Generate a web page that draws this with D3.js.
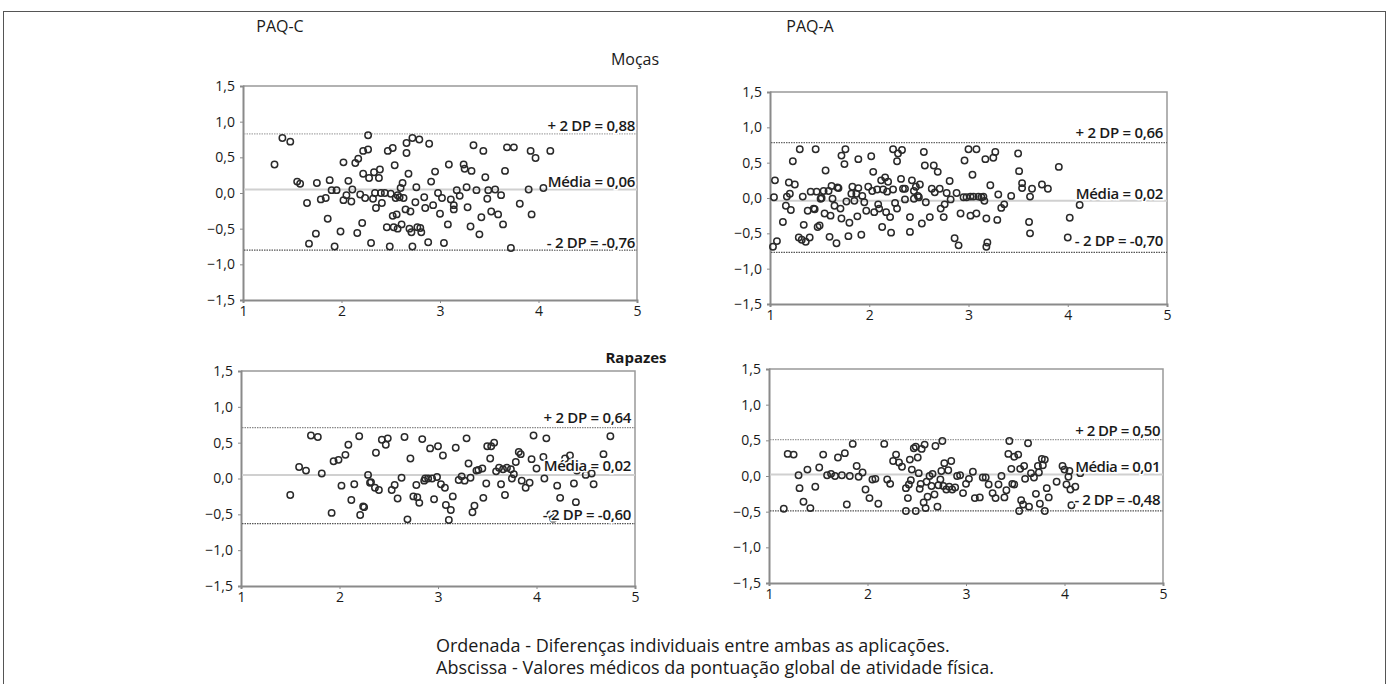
<!DOCTYPE html>
<html>
<head>
<meta charset="utf-8">
<script src="https://cdn.jsdelivr.net/npm/d3@7"></script>
<style>
  body { margin: 0; background: #fff; }
  svg { display: block; font-family: "Open Sans", "Noto Sans", sans-serif; }
  .domain, .tick line { stroke: #8a8a8a; }
</style>
</head>
<body>
<div id="chart"></div>
<script>
// values: [media, diferenca]
const mocasPAQC = [
  [1.32,0.40],[1.40,0.77],[1.48,0.72],[1.55,0.16],[1.58,0.13],[1.65,-0.14],[1.75,0.14],[1.74,-0.57],
  [1.67,-0.71],[1.79,-0.09],[1.84,-0.07],[1.86,-0.36],[1.88,0.18],[1.90,0.04],[1.93,-0.75],[1.95,0.04],
  [1.99,-0.54],[2.02,0.43],[2.02,-0.10],[2.05,-0.03],[2.07,0.17],[2.10,-0.12],[2.11,0.05],[2.14,0.42],
  [2.17,0.48],[2.16,-0.56],[2.19,-0.02],[2.21,-0.42],[2.22,0.27],[2.22,0.59],[2.24,-0.07],[2.27,0.61],
  [2.27,0.81],[2.28,0.21],[2.30,-0.70],[2.32,-0.08],[2.33,0.29],[2.35,-0.21],[2.34,0.00],[2.38,0.21],
  [2.39,0.33],[2.40,0.00],[2.41,-0.14],[2.44,0.00],[2.46,-0.48],[2.47,0.59],[2.49,-0.75],[2.50,-0.01],
  [2.52,0.63],[2.52,-0.32],[2.53,-0.48],[2.54,0.39],[2.55,-0.07],[2.56,-0.30],[2.57,-0.50],[2.57,-0.03],
  [2.59,-0.06],[2.60,0.07],[2.61,-0.44],[2.62,0.14],[2.63,-0.07],[2.66,0.70],[2.66,0.56],[2.65,-0.23],
  [2.68,0.27],[2.69,-0.50],[2.70,-0.26],[2.71,-0.55],[2.72,0.77],[2.72,-0.75],[2.75,-0.13],[2.76,0.08],
  [2.77,-0.48],[2.79,0.75],[2.80,-0.49],[2.81,-0.55],[2.84,-0.06],[2.85,-0.21],[2.88,-0.69],[2.89,0.69],
  [2.91,0.16],[2.93,-0.17],[2.95,0.30],[2.98,0.00],[3.00,-0.29],[3.02,-0.07],[3.04,-0.70],[3.08,-0.44],
  [3.09,0.40],[3.11,-0.09],[3.14,-0.23],[3.14,-0.17],[3.17,0.04],[3.20,-0.04],[3.24,0.40],[3.25,0.34],
  [3.27,0.08],[3.28,-0.20],[3.31,-0.47],[3.32,0.31],[3.34,0.67],[3.37,0.04],[3.40,-0.58],[3.42,-0.34],
  [3.44,0.59],[3.46,0.22],[3.48,-0.08],[3.49,0.04],[3.52,-0.26],[3.56,0.05],[3.59,-0.30],[3.62,-0.03],
  [3.64,-0.44],[3.66,0.31],[3.68,0.64],[3.72,-0.77],[3.75,0.64],[3.81,-0.15],[3.90,0.05],[3.92,0.59],
  [3.93,-0.30],[3.97,0.49],[4.05,0.07],[4.12,0.59]
];

const mocasPAQA = [
  [1.03,-0.69],[1.05,0.25],[1.04,0.01],[1.07,-0.61],[1.13,-0.34],[1.16,-0.11],[1.17,0.02],[1.19,0.22],
  [1.20,0.06],[1.21,-0.17],[1.23,0.52],[1.25,0.19],[1.29,-0.56],[1.30,0.69],[1.32,-0.59],[1.33,0.02],
  [1.34,-0.38],[1.36,-0.62],[1.38,-0.18],[1.40,-0.56],[1.41,0.09],[1.44,-0.15],[1.45,-0.16],[1.46,0.69],
  [1.47,0.09],[1.48,-0.41],[1.50,-0.39],[1.51,-0.01],[1.52,0.00],[1.54,0.10],[1.55,-0.22],[1.56,0.39],
  [1.59,0.10],[1.61,-0.25],[1.60,-0.55],[1.62,0.17],[1.63,-0.01],[1.65,-0.11],[1.67,-0.64],[1.68,0.15],
  [1.69,0.14],[1.71,-0.15],[1.72,-0.29],[1.72,0.60],[1.75,0.48],[1.76,0.69],[1.77,-0.05],[1.79,-0.54],
  [1.80,-0.35],[1.82,0.06],[1.83,0.16],[1.85,-0.04],[1.87,0.06],[1.88,-0.26],[1.89,0.55],[1.89,0.14],
  [1.92,-0.52],[1.93,0.03],[1.95,-0.06],[1.97,-0.18],[1.99,0.16],[2.02,0.59],[2.03,0.10],[2.04,0.37],
  [2.05,-0.20],[2.08,0.12],[2.09,-0.09],[2.10,-0.15],[2.12,0.25],[2.13,-0.41],[2.14,0.12],[2.16,0.29],
  [2.17,-0.20],[2.18,0.09],[2.19,0.23],[2.21,-0.27],[2.22,-0.49],[2.24,0.69],[2.24,0.12],[2.26,-0.07],
  [2.28,0.52],[2.28,-0.15],[2.29,0.63],[2.32,0.27],[2.33,0.68],[2.34,0.13],[2.36,0.13],[2.36,-0.02],
  [2.41,-0.27],[2.41,-0.48],[2.43,0.25],[2.45,-0.01],[2.45,0.10],[2.47,0.16],[2.49,0.03],[2.51,0.19],
  [2.50,0.01],[2.53,-0.36],[2.55,0.65],[2.56,0.46],[2.57,-0.06],[2.61,-0.27],[2.63,0.13],[2.65,0.46],
  [2.66,0.08],[2.69,0.37],[2.71,0.13],[2.72,-0.15],[2.75,-0.27],[2.76,-0.09],[2.78,0.07],[2.81,0.24],
  [2.82,-0.02],[2.86,-0.57],[2.88,0.07],[2.90,-0.67],[2.92,-0.22],[2.96,0.53],[2.95,0.01],[2.98,0.01],
  [3.00,0.69],[3.02,-0.25],[3.02,0.02],[3.04,0.33],[3.05,0.02],[3.08,0.69],[3.08,-0.22],[3.10,0.02],
  [3.13,0.01],[3.15,0.02],[3.16,-0.04],[3.17,0.55],[3.18,-0.29],[3.19,-0.63],[3.18,-0.69],[3.22,0.18],
  [3.25,0.57],[3.27,0.65],[3.29,-0.31],[3.30,0.05],[3.33,-0.14],[3.36,-0.09],[3.43,0.03],[3.50,0.63],
  [3.51,0.38],[3.54,0.21],[3.54,0.14],[3.61,-0.34],[3.62,-0.50],[3.62,0.02],[3.64,0.13],[3.74,0.19],
  [3.80,0.13],[3.91,0.44],[4.00,-0.56],[4.02,-0.28],[4.12,-0.10]
];

const rapazesPAQC = [
  [1.50,-0.23],[1.59,0.16],[1.66,0.11],[1.71,0.60],[1.78,0.58],[1.82,0.07],[1.92,-0.48],[1.94,0.24],
  [1.99,0.26],[2.02,-0.10],[2.06,0.33],[2.09,0.47],[2.12,-0.30],[2.15,-0.08],[2.20,0.59],[2.21,-0.51],
  [2.24,-0.39],[2.25,-0.40],[2.29,0.05],[2.31,-0.06],[2.32,-0.05],[2.36,-0.13],[2.37,0.36],[2.40,-0.16],
  [2.43,0.54],[2.47,0.47],[2.49,0.56],[2.53,-0.16],[2.56,-0.09],[2.59,-0.28],[2.63,0.01],[2.66,0.58],
  [2.69,-0.57],[2.72,0.28],[2.75,-0.25],[2.79,-0.26],[2.78,-0.09],[2.81,-0.34],[2.84,0.55],[2.86,-0.03],
  [2.87,0.00],[2.90,0.00],[2.92,0.42],[2.94,0.00],[2.96,-0.29],[2.99,0.02],[3.00,0.45],[3.03,-0.08],
  [3.05,0.32],[3.07,-0.13],[3.08,-0.37],[3.11,-0.58],[3.13,-0.44],[3.15,-0.25],[3.18,0.43],[3.21,-0.02],
  [3.24,0.03],[3.27,-0.03],[3.29,0.56],[3.31,0.21],[3.33,0.01],[3.35,-0.47],[3.37,-0.38],[3.39,0.11],
  [3.41,0.12],[3.45,0.14],[3.46,-0.27],[3.49,-0.07],[3.50,0.45],[3.53,0.28],[3.54,0.45],[3.57,0.50],
  [3.59,0.10],[3.62,0.15],[3.64,-0.08],[3.66,0.13],[3.68,-0.23],[3.70,0.15],[3.74,0.13],[3.75,0.00],
  [3.77,0.06],[3.79,0.23],[3.82,0.37],[3.84,0.34],[3.85,-0.03],[3.89,-0.13],[3.93,-0.06],[3.95,0.27],
  [3.97,0.60],[4.00,0.14],[4.07,0.30],[4.08,0.00],[4.10,0.56],[4.14,-0.50],[4.17,-0.56],[4.21,-0.10],
  [4.24,-0.27],[4.29,0.28],[4.34,0.32],[4.38,-0.07],[4.40,-0.33],[4.41,0.11],[4.50,0.05],[4.56,0.07],
  [4.58,-0.08],[4.68,0.34],[4.75,0.59]
];

const rapazesPAQA = [
  [1.15,-0.46],[1.19,0.31],[1.25,0.30],[1.30,0.01],[1.31,-0.17],[1.35,-0.36],[1.39,0.09],[1.42,-0.45],
  [1.47,-0.15],[1.51,0.12],[1.55,0.30],[1.59,0.01],[1.63,0.03],[1.67,0.00],[1.70,0.26],[1.74,0.01],
  [1.77,0.32],[1.79,-0.40],[1.82,0.00],[1.85,0.45],[1.89,0.14],[1.91,-0.01],[1.95,0.05],[1.98,-0.19],
  [2.02,-0.31],[2.05,-0.05],[2.08,-0.04],[2.11,-0.39],[2.17,0.45],[2.20,-0.05],[2.23,-0.11],[2.26,0.21],
  [2.29,0.30],[2.32,0.19],[2.35,0.13],[2.39,-0.49],[2.39,-0.17],[2.41,-0.31],[2.42,-0.12],[2.43,0.23],
  [2.44,-0.06],[2.45,0.09],[2.47,0.39],[2.49,-0.49],[2.49,0.41],[2.51,0.26],[2.52,0.04],[2.53,-0.18],
  [2.54,-0.11],[2.55,0.38],[2.57,-0.37],[2.58,0.44],[2.59,-0.45],[2.60,-0.08],[2.61,-0.29],[2.63,0.00],
  [2.65,-0.14],[2.66,0.03],[2.68,-0.26],[2.69,0.42],[2.71,-0.43],[2.72,-0.13],[2.74,-0.05],[2.75,0.07],
  [2.76,0.49],[2.77,-0.14],[2.78,0.18],[2.80,-0.19],[2.82,0.08],[2.83,-0.15],[2.85,0.21],[2.86,-0.19],
  [2.89,-0.16],[2.91,0.00],[2.94,0.01],[2.97,-0.24],[3.00,-0.11],[3.03,-0.04],[3.07,0.06],[3.09,-0.31],
  [3.14,-0.30],[3.17,-0.02],[3.20,-0.02],[3.23,-0.12],[3.27,-0.24],[3.30,-0.31],[3.33,-0.12],[3.36,0.00],
  [3.39,-0.30],[3.41,-0.20],[3.43,0.31],[3.44,0.49],[3.46,0.10],[3.47,-0.11],[3.49,0.27],[3.49,-0.12],
  [3.53,0.30],[3.55,0.10],[3.54,-0.49],[3.56,-0.34],[3.58,-0.40],[3.59,0.14],[3.60,-0.04],[3.63,0.46],
  [3.64,-0.43],[3.66,0.04],[3.69,-0.02],[3.71,-0.25],[3.73,0.14],[3.74,0.05],[3.75,-0.39],[3.77,0.24],
  [3.78,0.15],[3.80,-0.49],[3.80,0.23],[3.82,-0.17],[3.84,-0.30],[3.92,-0.08],[3.98,0.14],[4.00,0.09],
  [4.02,-0.12],[4.04,-0.01],[4.05,0.07],[4.06,-0.19],[4.07,-0.41],[4.11,-0.15],[4.16,0.04]
];

// limit lines as drawn: [+2 DP, media, -2 DP]
const mocasPAQCLines = [0.83, 0.05, -0.80];
const mocasPAQALines = [0.785, -0.04, -0.77];
const rapazesPAQCLines = [0.71, 0.05, -0.63];
const rapazesPAQALines = [0.51, 0.02, -0.49];

const mocasPAQCLabels = ["+ 2 DP = 0,88", "Média = 0,06", "- 2 DP = -0,76"];
const mocasPAQALabels = ["+ 2 DP = 0,66", "Média = 0,02", "- 2 DP = -0,70"];
const rapazesPAQCLabels = ["+ 2 DP = 0,64", "Média = 0,02", "- 2 DP = -0,60"];
const rapazesPAQALabels = ["+ 2 DP = 0,50", "Média = 0,01", "- 2 DP = -0,48"];

const xTicks = [1, 2, 3, 4, 5];
const yTicks = [-1.5, -1, -0.5, 0, 0.5, 1, 1.5];

const footer = [
  "Ordenada - Diferenças individuais entre ambas as aplicações.",
  "Abscissa - Valores médicos da pontuação global de atividade física."
];

const W = 1389, H = 684;
const FONT = '"Open Sans", "Noto Sans", sans-serif';
const svg = d3.select('#chart').append('svg').attr('width', W).attr('height', H);

// outer frame
svg.append('rect').attr('x', 3.5).attr('y', 11.5).attr('width', 1382).attr('height', 700)
   .attr('fill', 'none').attr('stroke', '#555').attr('stroke-width', 1);

// panel layout
const panels = [
  {pts: mocasPAQC, lines: mocasPAQCLines, labels: mocasPAQCLabels, x0: 243, x1: 637, y0: 86, y1: 300, upCol: '#aaa', labDy: [-3, -2, -2], labDx: 2, ls: -0.3},
  {pts: mocasPAQA, lines: mocasPAQALines, labels: mocasPAQALabels, x0: 770, x1: 1167, y0: 92, y1: 304, upCol: '#666', labDy: [-4.5, -2, -6], labDx: 4, ls: -0.3},
  {pts: rapazesPAQC, lines: rapazesPAQCLines, labels: rapazesPAQCLabels, x0: 241, x1: 635, y0: 371, y1: 586, upCol: '#888', labDy: [-5, -4, -4], labDx: 4, ls: -0.3},
  {pts: rapazesPAQA, lines: rapazesPAQALines, labels: rapazesPAQALabels, x0: 769, x1: 1163, y0: 369, y1: 583, upCol: '#999', labDy: [-4, -3, -6], labDx: 3, ls: -0.5}
];

const fmt = d => d3.format('.1f')(d).replace('.', ',');

panels.forEach(p => {
  const x = d3.scaleLinear().domain([1, 5]).range([p.x0, p.x1]);
  const y = d3.scaleLinear().domain([-1.5, 1.5]).range([p.y1, p.y0]);
  const g = svg.append('g');

  // frame top/right
  g.append('path')
   .attr('d', `M${p.x0},${p.y0}H${p.x1}V${p.y1}`)
   .attr('fill', 'none').attr('stroke', '#999').attr('stroke-width', 1.5);

  g.append('g').attr('transform', `translate(${p.x0},0)`)
   .call(d3.axisLeft(y).tickValues(yTicks).tickFormat(fmt).tickSize(3).tickPadding(5))
   .attr('font-family', FONT).attr('font-size', 14)
   .call(a => a.select('.domain').attr('stroke-width', 2))
   .call(a => a.selectAll('.tick text').attr('fill', '#1a1a1a'));

  g.append('g').attr('transform', `translate(0,${p.y1})`)
   .call(d3.axisBottom(x).tickValues(xTicks).tickFormat(d3.format('d')).tickSize(3).tickPadding(3))
   .attr('font-family', FONT).attr('font-size', 14)
   .call(a => a.select('.domain').attr('stroke-width', 2))
   .call(a => a.selectAll('.tick text').attr('fill', '#1a1a1a'));

  // mean line
  g.append('line').attr('x1', p.x0 + 1).attr('x2', p.x1)
   .attr('y1', y(p.lines[1])).attr('y2', y(p.lines[1]))
   .attr('stroke', '#d0d0d0').attr('stroke-width', 2);

  // limit lines
  g.selectAll('.lim').data([p.lines[0], p.lines[2]]).join('line')
   .attr('x1', p.x0 + 1).attr('x2', p.x1)
   .attr('y1', d => y(d)).attr('y2', d => y(d))
   .attr('stroke', (d, i) => i === 0 ? p.upCol : '#555')
   .attr('stroke-width', 1.3)
   .attr('stroke-dasharray', '1.5 1');

  // points
  g.append('g').selectAll('circle').data(p.pts).join('circle')
   .attr('cx', d => x(d[0])).attr('cy', d => y(d[1])).attr('r', 3.2)
   .attr('fill', 'none').attr('stroke', '#2a2a2a').attr('stroke-width', 1.5);

  // labels
  g.selectAll('.lab').data(p.labels).join('text')
   .attr('x', p.x1 - p.labDx)
   .attr('y', (d, i) => y(p.lines[i]) + p.labDy[i])
   .attr('text-anchor', 'end')
   .attr('font-size', 15).attr('font-weight', 600).attr('fill', '#1a1a1a')
   .attr('letter-spacing', p.ls)
   .attr('stroke', '#fff').attr('stroke-width', 3).attr('paint-order', 'stroke')
   .text(d => d);
});

// titles
const titles = [
  {t: 'PAQ-C', x: 280, y: 32, w: 400, s: 16},
  {t: 'PAQ-A', x: 810, y: 32, w: 400, s: 16},
  {t: 'Moças', x: 635, y: 65, w: 400, s: 16},
  {t: 'Rapazes', x: 636, y: 363, w: 700, s: 15}
];
svg.selectAll('.title').data(titles).join('text')
   .attr('x', d => d.x).attr('y', d => d.y)
   .attr('text-anchor', 'middle').attr('font-size', d => d.s).attr('font-weight', d => d.w)
   .attr('fill', '#1a1a1a').text(d => d.t);

svg.selectAll('.foot').data(footer).join('text')
   .attr('x', 436).attr('y', (d, i) => 652 + i * 22)
   .attr('font-size', 18).attr('fill', '#1a1a1a').text(d => d);
</script>
</body>
</html>
